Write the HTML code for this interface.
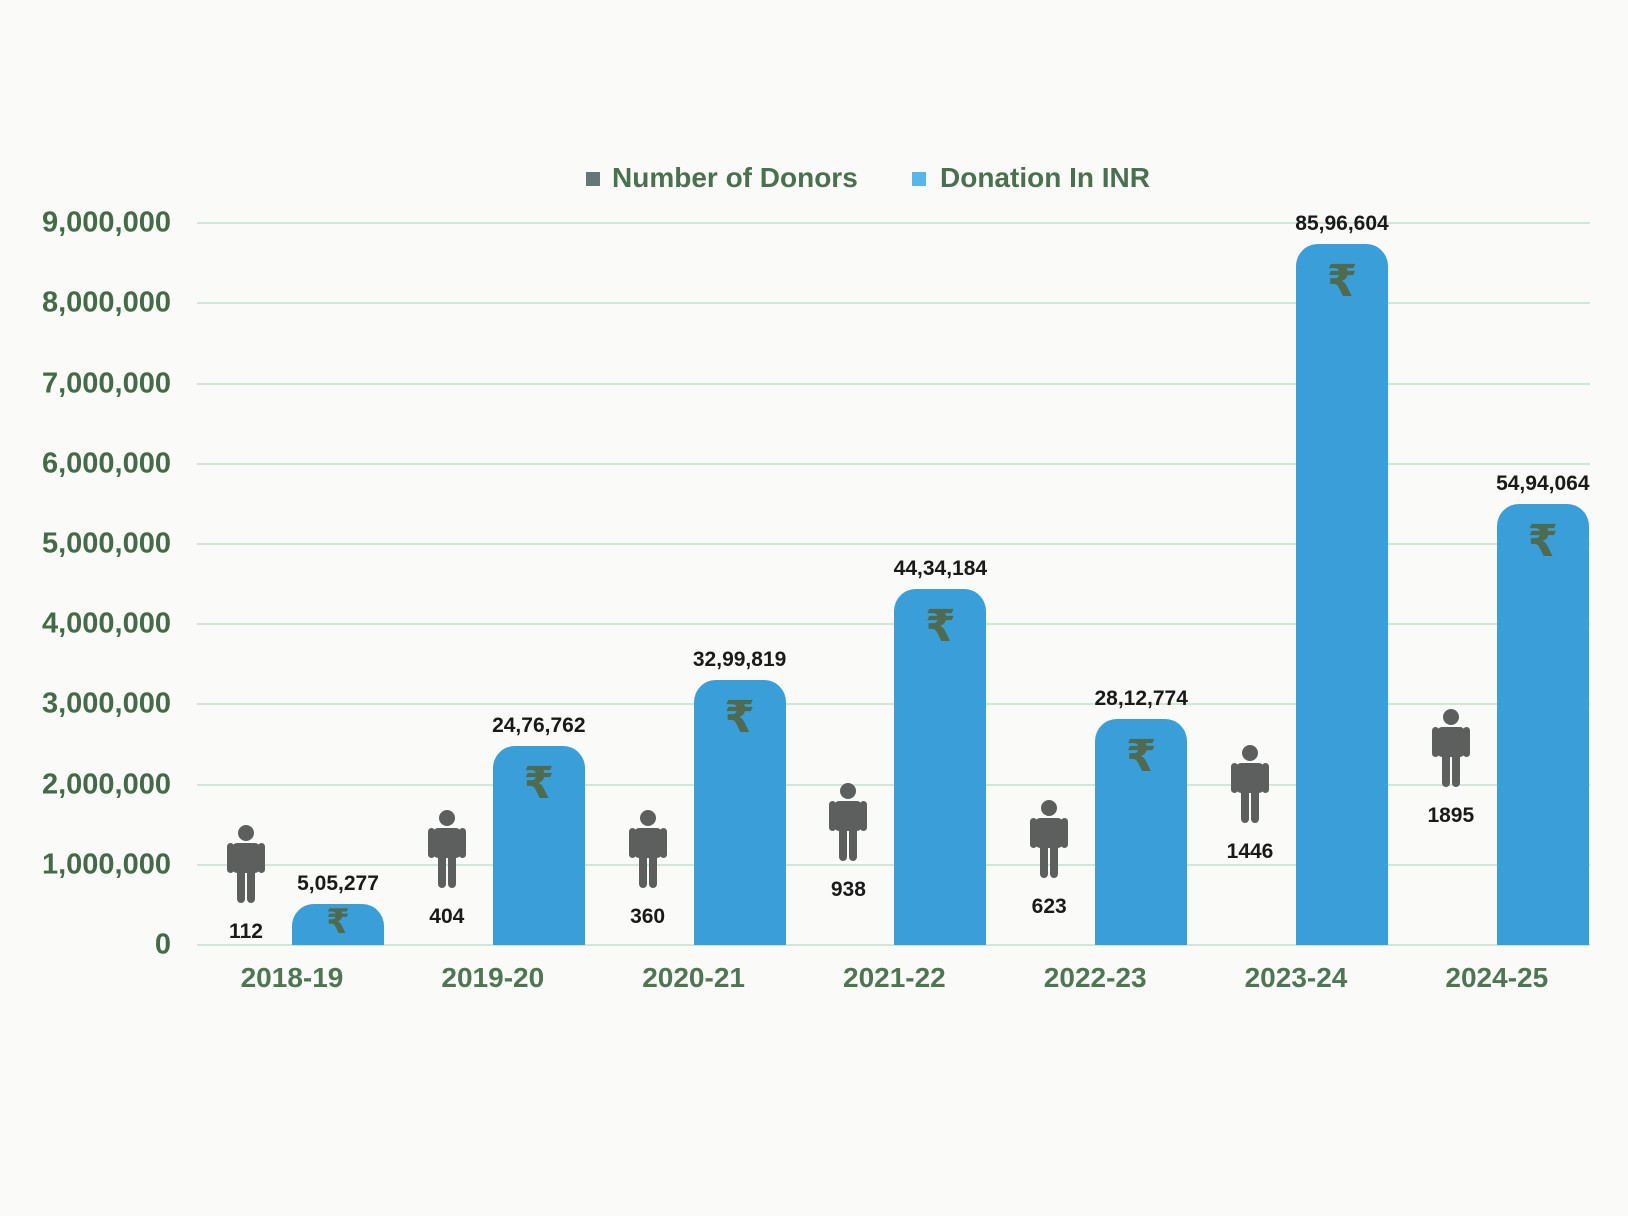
<!DOCTYPE html>
<html><head><meta charset="utf-8"><style>
body{margin:0;width:1628px;height:1216px;background:#fafbf9;position:relative;overflow:hidden;font-family:"Liberation Sans","DejaVu Sans",sans-serif}
.g{position:absolute;left:197px;width:1393px;height:2px;background:#cfe6d8}
.yl{position:absolute;right:1457px;font-size:29px;font-weight:bold;color:#446a48;transform:translateY(-50%)}
.xl{position:absolute;font-size:28px;font-weight:bold;color:#4f7653;top:962px;width:160px;text-align:center}
.bar{position:absolute;width:92px;background:#3a9fd9;border-radius:22px 22px 0 0}
.rs{position:absolute;left:0;width:92px;text-align:center;font-family:"DejaVu Sans",sans-serif;font-weight:bold;font-size:44px;color:#4f6b4f}
.v{position:absolute;width:160px;text-align:center;font-size:21px;font-weight:bold;color:#1a1a1a}
.p{position:absolute;width:40px;height:78px}
</style></head><body>
<div style="position:absolute;left:586px;top:172px;width:14px;height:14px;background:#66777a"></div>
<div style="position:absolute;left:612px;top:162px;font-size:28px;font-weight:bold;color:#4a7050">Number of Donors</div>
<div style="position:absolute;left:912px;top:172px;width:14px;height:14px;background:#5ab5e8"></div>
<div style="position:absolute;left:940px;top:162px;font-size:28px;font-weight:bold;color:#4a7050">Donation In INR</div>
<div id="c"></div>
<script>
(function(){
var c=document.getElementById('c'),h='';
var base=945,u=80.2;
for(var i=0;i<=9;i++){var y=base-i*u;h+='<div class="g" style="top:'+(y-1)+'px"></div><div class="yl" style="top:'+y+'px">'+(i==0?'0':i+',000,000')+'</div>';}
var cats=['2018-19','2019-20','2020-21','2021-22','2022-23','2023-24','2024-25'];
var val=[505277,2476762,3299819,4434184,2812774,8596604,5494064];
var lab=['5,05,277','24,76,762','32,99,819','44,34,184','28,12,774','85,96,604','54,94,064'];
var don=['112','404','360','938','623','1446','1895'];
var ptop=[825,810,810,783,800,745,709];
for(var k=0;k<7;k++){
 var cx=292+k*200.8;
 var bt=base-val[k]/1e6*u; if(k==5)bt=244;
 h+='<div class="bar" style="left:'+cx+'px;top:'+bt+'px;height:'+(base-bt)+'px"><div class="rs" style="top:'+(val[k]<1e6?-2:12)+'px;'+(val[k]<1e6?'font-size:34px':'')+'">₹</div></div>';
 h+='<div class="v" style="left:'+(cx-34)+'px;top:'+(bt-32)+'px">'+lab[k]+'</div>';
 var px=cx-46,pt=ptop[k];
 h+='<svg class="p" style="left:'+(px-20)+'px;top:'+pt+'px" viewBox="0 0 40 78"><g fill="#5d5f5e"><circle cx="20" cy="8" r="8"/><rect x="6" y="18" width="28" height="30" rx="5"/><rect x="1" y="18" width="7" height="30" rx="3.5"/><rect x="32" y="18" width="7" height="30" rx="3.5"/><rect x="11" y="40" width="8" height="38" rx="4"/><rect x="21" y="40" width="8" height="38" rx="4"/></g></svg>';
 h+='<div class="v" style="left:'+(px-80)+'px;top:'+(pt+95)+'px">'+don[k]+'</div>';
 h+='<div class="xl" style="left:'+(cx-80)+'px">'+cats[k]+'</div>';
}
c.innerHTML=h;
})();
</script>
</body></html>
